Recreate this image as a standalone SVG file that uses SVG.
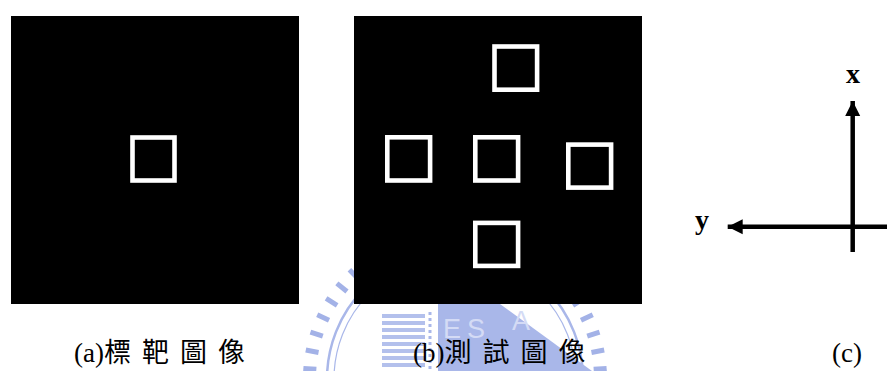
<svg xmlns="http://www.w3.org/2000/svg" xmlns:xlink="http://www.w3.org/1999/xlink" width="887" height="371" viewBox="0 0 887 371">
  <style>
    .panel { fill: #000000; }
    .sq { fill: none; stroke: #ffffff; stroke-width: 4.6; }
    .axis { stroke: #000000; stroke-width: 4.5; fill: none; }
    .axlbl { font-family: "Liberation Serif", "Times New Roman", serif; font-weight: bold; font-size: 28px; fill: #000000; text-anchor: middle; }
    .cap { font-family: "Liberation Serif", "Noto Sans CJK TC", serif; font-size: 27px; fill: #000000; }
    .cjk { font-family: "Noto Sans CJK TC", "Noto Sans CJK SC", sans-serif; font-size: 27px; letter-spacing: 11px; }
    .wm { fill: #a9b7e9; }
    .wmline { stroke: #a9b7e9; fill: none; }
    .wmtxt { font-family: "Liberation Sans", Arial, sans-serif; font-size: 27px; fill: #d4dbf5; }
  </style>
  <defs>
    <marker id="arr" markerUnits="userSpaceOnUse" markerWidth="16" markerHeight="16" refX="15" refY="8" orient="auto">
      <polygon points="0,0.5 15,8 0,15.5" fill="#000000"/>
    </marker>
    <line id="tooth" x1="594" y1="379" x2="607" y2="379" stroke="#a3b2e7" stroke-width="5"/>
  </defs>

  <!-- faint watermark -->
  <g id="watermark">
    <circle cx="455" cy="379" r="128" class="wmline" stroke-width="2.5"/>
    <circle cx="455" cy="379" r="121" class="wmline" stroke-width="1.2"/>
    <use xlink:href="#tooth" transform="rotate(-134 455 379)"/>
    <use xlink:href="#tooth" transform="rotate(-141 455 379)"/>
    <use xlink:href="#tooth" transform="rotate(-148 455 379)"/>
    <use xlink:href="#tooth" transform="rotate(-155 455 379)"/>
    <use xlink:href="#tooth" transform="rotate(-162 455 379)"/>
    <use xlink:href="#tooth" transform="rotate(-169 455 379)"/>
    <use xlink:href="#tooth" transform="rotate(-176 455 379)"/>
    <use xlink:href="#tooth" transform="rotate(-4 455 379)"/>
    <use xlink:href="#tooth" transform="rotate(-11 455 379)"/>
    <use xlink:href="#tooth" transform="rotate(-18 455 379)"/>
    <use xlink:href="#tooth" transform="rotate(-25 455 379)"/>
    <use xlink:href="#tooth" transform="rotate(-32 455 379)"/>
    <g fill="#b3c0ec">
      <rect x="382" y="314" width="43" height="4"/>
      <rect x="382" y="321" width="43" height="4"/>
      <rect x="382" y="328" width="43" height="4"/>
      <rect x="382" y="335" width="43" height="4"/>
      <rect x="382" y="342" width="43" height="4"/>
      <rect x="382" y="349" width="43" height="4"/>
      <rect x="382" y="356" width="43" height="4"/>
      <rect x="382" y="363" width="43" height="4"/>
    </g>
    <line x1="430" y1="312" x2="430" y2="371" stroke="#a9b7e9" stroke-width="3" stroke-dasharray="3,3"/>
    <polygon class="wm" points="438,304 500,304 592,371 438,371"/>
    <text class="wmtxt" x="443" y="338">E</text>
    <text class="wmtxt" x="467" y="338">S</text>
    <text class="wmtxt" x="512" y="330" font-size="18">A</text>
  </g>

  <g id="panel-a">
    <rect class="panel" x="11" y="16" width="288" height="288"/>
    <rect class="sq" x="132.5" y="137.5" width="42" height="43"/>
  </g>

  <g id="panel-b">
    <rect class="panel" x="354" y="16" width="288" height="288"/>
    <rect class="sq" x="494.5" y="46.5" width="42.6" height="43.2"/>
    <rect class="sq" x="387.3" y="137.3" width="42.8" height="43.2"/>
    <rect class="sq" x="475.3" y="137.3" width="42.8" height="43.2"/>
    <rect class="sq" x="568.3" y="144.6" width="42.8" height="43"/>
    <rect class="sq" x="475.3" y="222.9" width="42.8" height="43"/>
  </g>

  <g id="connectors">
    <line class="axis" x1="852.7" y1="252" x2="852.7" y2="101" marker-end="url(#arr)"/>
    <line class="axis" x1="890" y1="226.7" x2="727.7" y2="226.7" marker-end="url(#arr)"/>
  </g>

  <g id="axis-labels">
    <text class="axlbl" x="853" y="83">x</text>
    <text class="axlbl" x="702" y="229">y</text>
  </g>

  <g id="captions">
    <text class="cap" x="74" y="362">(a)<tspan class="cjk">標靶圖像</tspan></text>
    <text class="cap" x="413" y="362">(b)<tspan class="cjk">測試圖像</tspan></text>
    <text class="cap" x="832" y="362">(c)</text>
  </g>
</svg>
